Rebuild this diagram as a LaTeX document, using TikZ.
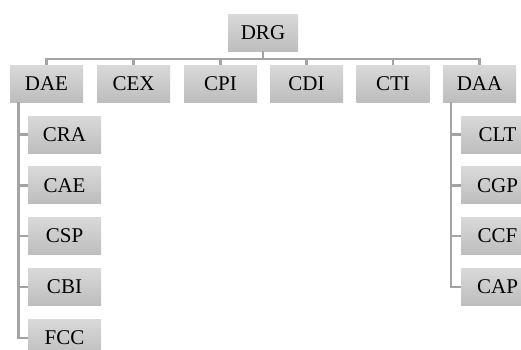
\documentclass[tikz,border=0pt]{standalone}
\usepackage{fontspec}
\setmainfont{Liberation Serif}
\usetikzlibrary{calc}
\definecolor{boxtop}{HTML}{D9D9D9}
\definecolor{boxbot}{HTML}{BDBDBD}
\definecolor{wire}{HTML}{A3A3A3}
\tikzset{
  unit/.style={draw=none, top color=boxtop, bottom color=boxbot,
    minimum width=73pt, minimum height=37pt, inner sep=0pt,
    font=\fontsize{21}{23}\selectfont, text=black},
  wireline/.style={draw=wire, line width=2.4pt}
}
\begin{document}
\begin{tikzpicture}[x=1pt, y=-1pt]
  \clip (0,0) rectangle (521,349);
  \useasboundingbox (0,0) rectangle (521,349);
  \fill[white] (0,0) rectangle (521,349);

  % root
  \node[unit, minimum width=70pt] (drg) at (263,32.5) {DRG};

  % second level
  \node[unit] (dae) at (46.5,83.5) {DAE};
  \node[unit] (cex) at (133.5,83.5) {CEX};
  \node[unit] (cpi) at (220.5,83.5) {CPI};
  \node[unit] (cdi) at (306.5,83.5) {CDI};
  \node[unit] (cti) at (393,83.5) {CTI};
  \node[unit] (daa) at (479.5,83.5) {DAA};

  % children of DAE
  \node[unit] (cra) at (64.5,134.5) {CRA};
  \node[unit] (cae) at (64.5,185.3) {CAE};
  \node[unit] (csp) at (64.5,236.1) {CSP};
  \node[unit] (cbi) at (64.5,286.9) {CBI};
  \node[unit] (fcc) at (64.5,337.7) {FCC};

  % children of DAA
  \node[unit] (clt) at (497.5,134.5) {CLT};
  \node[unit] (cgp) at (497.5,185.3) {CGP};
  \node[unit] (ccf) at (497.5,236.1) {CCF};
  \node[unit] (cap) at (497.5,286.9) {CAP};

  % bus under the root
  \coordinate (bus) at ($(drg.south)+(0,8)$);
  \draw[wireline] (drg.south) -- (bus);
  \foreach \c in {dae,cex,cpi,cdi,cti,daa}
    \draw[wireline] (bus) -| (\c.north);

  % left branch
  \coordinate (lstem) at ($(dae.south)+(-28.2,0)$);
  \foreach \c in {cra,cae,csp,cbi,fcc}
    \draw[wireline] (lstem) |- (\c.west);

  % right branch
  \coordinate (rstem) at ($(daa.south)+(-28.5,0)$);
  \foreach \c in {clt,cgp,ccf,cap}
    \draw[wireline] (rstem) |- (\c.west);
\end{tikzpicture}
\end{document}
